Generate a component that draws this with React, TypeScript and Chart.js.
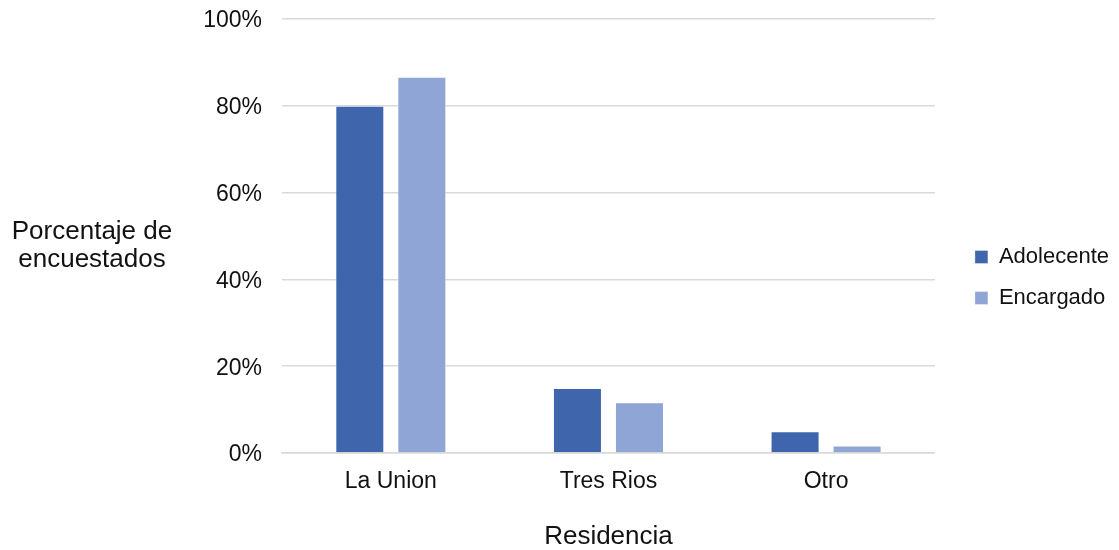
import React, { useEffect, useRef } from "react";
import { Chart, registerables } from "chart.js";

Chart.register(...registerables);

const categories = ["La Union", "Tres Rios", "Otro"];
const adolecente = [80, 15, 5];
const encargado = [86.7, 11.7, 1.7];
const seriesNames = ["Adolecente", "Encargado"];
const yTitleLines = ["Porcentaje de", "encuestados"];
const xTitle = "Residencia";

const FONT = '"Liberation Sans", Arial, sans-serif';

const yTitlePlugin = {
  id: "yTitleHorizontal",
  afterDraw(chart: any) {
    const { ctx, chartArea } = chart;
    const cy = (chartArea.top + chartArea.bottom) / 2;
    ctx.save();
    ctx.font = `26px ${FONT}`;
    ctx.fillStyle = "#111111";
    ctx.textAlign = "center";
    ctx.textBaseline = "alphabetic";
    ctx.fillText(yTitleLines[0], 92, cy + 3);
    ctx.fillText(yTitleLines[1], 92, cy + 31);
    ctx.restore();
  },
};

export default function App() {
  const ref = useRef<HTMLCanvasElement | null>(null);
  useEffect(() => {
    if (!ref.current) return;
    const chart = new Chart(ref.current, {
      type: "bar",
      data: {
        labels: categories,
        datasets: [
          {
            label: seriesNames[0],
            data: adolecente,
            backgroundColor: "#3F65AD",
            borderColor: "rgba(255,255,255,0.35)",
            borderWidth: 1,
            categoryPercentage: 0.57,
            barPercentage: 0.79,
          },
          {
            label: seriesNames[1],
            data: encargado,
            backgroundColor: "#8FA5D5",
            borderColor: "rgba(255,255,255,0.35)",
            borderWidth: 1,
            categoryPercentage: 0.57,
            barPercentage: 0.79,
          },
        ],
      },
      options: {
        animation: false,
        responsive: true,
        maintainAspectRatio: false,
        layout: { padding: { top: 5, bottom: 0, left: 0, right: 0 } },
        plugins: {
          tooltip: { enabled: false },
          legend: {
            position: "right",
            labels: {
              boxWidth: 13,
              boxHeight: 13,
              padding: 19,
              color: "#111111",
              font: { family: FONT, size: 22 },
            },
          },
        },
        scales: {
          x: {
            grid: { display: false },
            border: { display: true, color: "#d9d9d9", width: 1.5 },
            ticks: {
              padding: 7,
              color: "#111111",
              font: { family: FONT, size: 23 },
            },
            title: {
              display: true,
              text: xTitle,
              color: "#111111",
              font: { family: FONT, size: 26 },
              padding: { top: 10, bottom: -2 },
            },
            afterFit: (s: any) => {
              s.height = 97;
              s.paddingLeft = 0;
              s.paddingRight = 0;
            },
          },
          y: {
            min: 0,
            max: 100,
            grid: { color: "#d9d9d9", lineWidth: 1.5, drawTicks: false },
            border: { display: false },
            ticks: {
              stepSize: 20,
              padding: 20,
              labelOffset: 2,
              color: "#111111",
              font: { family: FONT, size: 23 },
              callback: (v: any) => v + "%",
            },
            afterFit: (s: any) => {
              s.width = 282;
              s.paddingTop = 19;
              s.paddingBottom = 0;
            },
          },
          y2: {
            position: "right",
            display: true,
            grid: { display: false },
            border: { display: false },
            ticks: { display: false },
            afterFit: (s: any) => {
              s.width = 21;
              s.paddingTop = 0;
              s.paddingBottom = 0;
            },
          },
        },
      },
      plugins: [yTitlePlugin],
    } as any);
    return () => chart.destroy();
  }, []);
  return (
    <div style={{ position: "absolute", left: 0, top: 0, width: 1119, height: 550 }}>
      <canvas ref={ref} />
    </div>
  );
}
